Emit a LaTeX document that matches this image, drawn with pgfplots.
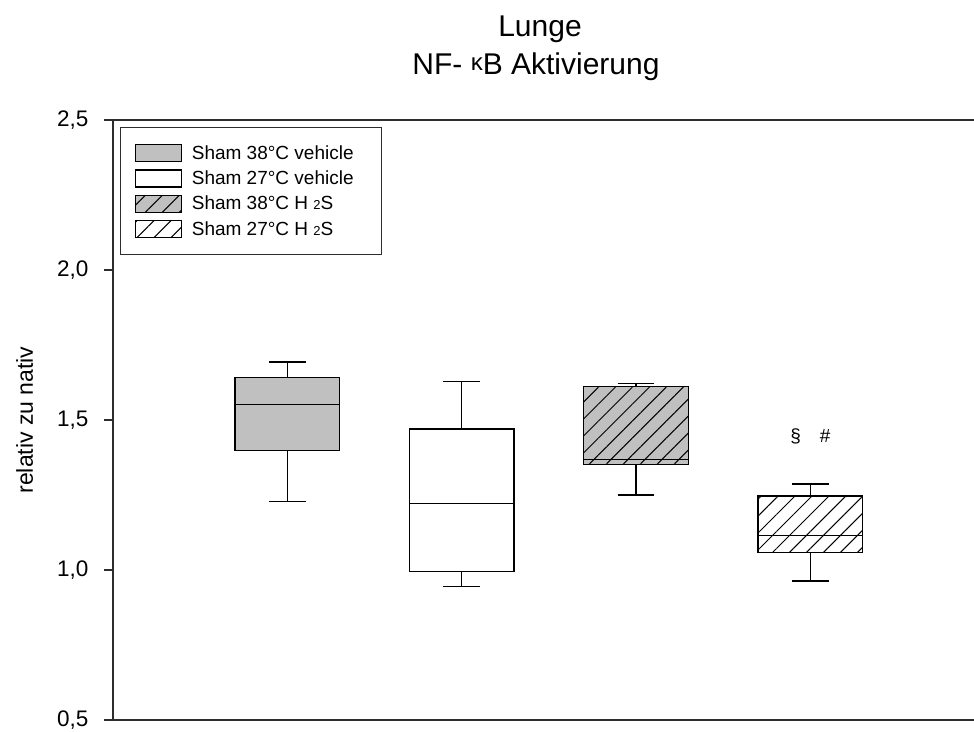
\documentclass[border=0pt]{standalone}
\usepackage{fontspec}
\setmainfont{Liberation Sans}
\usepackage{pgfplots}
\pgfplotsset{compat=1.18}
\usepgfplotslibrary{statistics}
\usetikzlibrary{patterns.meta}
\definecolor{boxgray}{RGB}{192,192,192}
\definecolor{axgray}{RGB}{45,45,45}
\tikzset{hatch/.style={postaction={pattern={Lines[angle=45,distance=12pt,line width=1pt]}, pattern color=black}}}
\begin{document}
\begin{tikzpicture}
\useasboundingbox (0,0) rectangle (974pt,731pt);
\begin{axis}[
  at={(113pt,11pt)}, anchor=south west,
  scale only axis, width=863pt, height=600pt,
  xmin=0, xmax=4.95, ymin=0.5, ymax=2.5,
  xtick=\empty,
  ytick={0.5,1,1.5,2,2.5},
  yticklabel style={/pgf/number format/use comma,/pgf/number format/fixed,/pgf/number format/fixed zerofill,/pgf/number format/precision=1,/pgf/number format/assume math mode=true, xshift=-12pt},
  ticklabel style={font=\fontsize{22.5}{26}\selectfont},
  tick align=outside, ytick pos=left, major tick length=9pt,
  tick style={axgray, line width=1.2pt},
  axis line style={axgray, line width=2pt},
  ylabel={relativ zu nativ},
  ylabel style={at={(rel axis cs:0,0.5)}, anchor=base, yshift=80pt, font=\fontsize{23}{27}\selectfont},
  legend image code/.code={\draw[#1] (0pt,-8.5pt) rectangle (46pt,8.5pt);},
  legend cell align=left,
  legend style={at={(rel axis cs:0,1)}, xshift=7pt, yshift=-7pt, anchor=north west, draw=axgray, line width=1.3pt, font=\fontsize{19}{22}\selectfont, inner xsep=14pt, inner ysep=16pt, row sep=6pt, /tikz/every odd column/.append style={column sep=8pt}},
  boxplot/draw direction=y,
  boxplot/box extend=0.6,
  boxplot/whisker extend=0.21,
  boxplot/every median/.style={line width=1pt},
]
\addlegendimage{draw=black, line width=1.2pt, fill=boxgray}
\addlegendentry{Sham 38°C vehicle\hspace*{12pt}}
\addlegendimage{draw=black, line width=1.2pt, fill=white}
\addlegendentry{Sham 27°C vehicle}
\addlegendimage{draw=black, line width=1.2pt, fill=boxgray, hatch}
\addlegendentry{Sham 38°C H {\fontsize{13}{13}\selectfont 2}S}
\addlegendimage{draw=black, line width=1.2pt, fill=white, hatch}
\addlegendentry{Sham 27°C H {\fontsize{13}{13}\selectfont 2}S}

\addplot[forget plot, draw=black, line width=1.4pt, fill=boxgray,
  boxplot prepared={draw position=1, lower whisker=1.228, lower quartile=1.399, median=1.553, upper quartile=1.642, upper whisker=1.693}] coordinates {};
\addplot[forget plot, draw=black, line width=1.4pt, fill=white,
  boxplot prepared={draw position=2, lower whisker=0.944, lower quartile=0.994, median=1.222, upper quartile=1.470, upper whisker=1.629}] coordinates {};
\addplot[forget plot, draw=black, line width=1.4pt, fill=boxgray,
  boxplot/every box/.append style={hatch},
  boxplot prepared={draw position=3, lower whisker=1.250, lower quartile=1.352, median=1.369, upper quartile=1.611, upper whisker=1.622}] coordinates {};
\addplot[forget plot, draw=black, line width=1.4pt, fill=white,
  boxplot/every box/.append style={hatch},
  boxplot prepared={draw position=4, lower whisker=0.963, lower quartile=1.058, median=1.116, upper quartile=1.246, upper whisker=1.287}] coordinates {};

\node[font=\fontsize{19}{22}\selectfont] at (axis cs:4,1.445) {§\hspace{19pt}\#};
\end{axis}
\node[anchor=base, font=\fontsize{30}{36}\selectfont] at (540pt,694pt) {Lunge};
\node[anchor=base, font=\fontsize{30}{36}\selectfont] at (536pt,656pt) {NF- \raisebox{4pt}{\fontsize{24}{24}\selectfont κ}B Aktivierung};
\end{tikzpicture}
\end{document}
